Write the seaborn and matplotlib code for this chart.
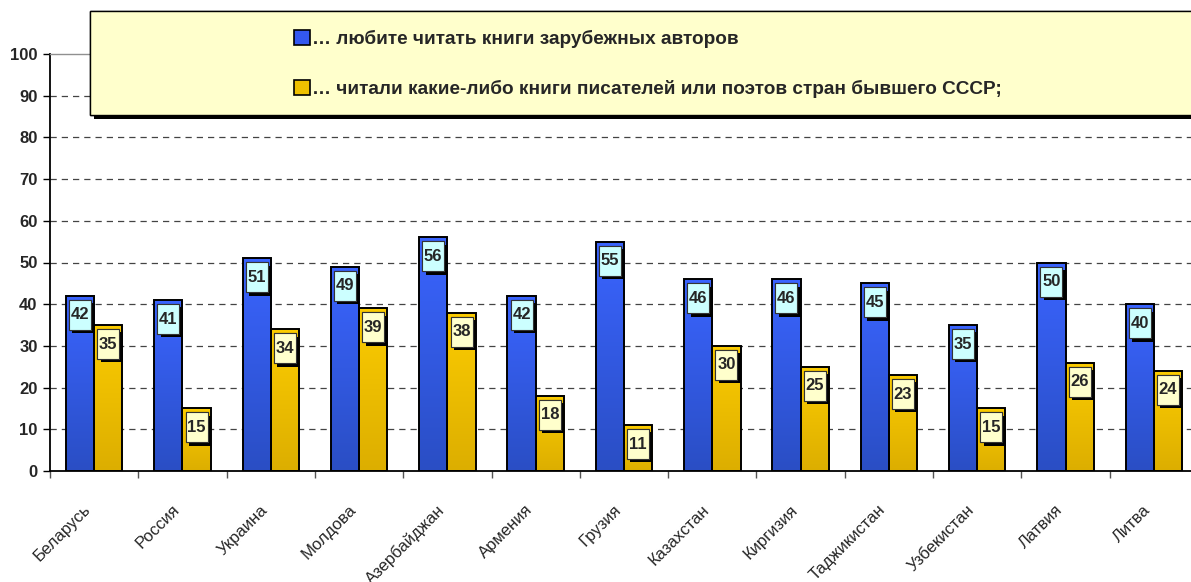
import numpy as np
import pandas as pd
import matplotlib
matplotlib.use("Agg")
import matplotlib.pyplot as plt
import matplotlib.patheffects as pe
from matplotlib.colors import LinearSegmentedColormap
from matplotlib.patches import Rectangle, Patch
from matplotlib.path import Path
from matplotlib.transforms import ScaledTranslation
import seaborn as sns

# data
countries = ["Беларусь", "Россия", "Украина", "Молдова", "Азербайджан", "Армения",
             "Грузия", "Казахстан", "Киргизия", "Таджикистан", "Узбекистан",
             "Латвия", "Литва"]
foreign_authors = [42, 41, 51, 49, 56, 42, 55, 46, 46, 45, 35, 50, 40]
ussr_writers = [35, 15, 34, 39, 38, 18, 11, 30, 25, 23, 15, 26, 24]
series_names = ["… любите читать книги зарубежных авторов",
                "… читали какие-либо книги писателей или поэтов стран бывшего СССР;"]
y_ticks = list(range(0, 101, 10))

blue_top, blue_bot = "#3a64ff", "#2a4ec4"
yel_top, yel_bot = "#fccc00", "#dcae00"

df = pd.DataFrame({
    "country": countries * 2,
    "value": foreign_authors + ussr_writers,
    "series": [series_names[0]] * len(countries) + [series_names[1]] * len(countries),
})

sns.set_style("white")
plt.rcParams["font.family"] = ["Liberation Sans", "DejaVu Sans"]

fig = plt.figure(figsize=(11.91, 5.82), dpi=100)
ax = fig.add_axes([50 / 1191, 111 / 582, 1148 / 1191, 417 / 582])

sns.barplot(data=df, x="country", y="value", hue="series", order=countries,
            hue_order=series_names, palette=[blue_top, yel_top], width=0.64,
            saturation=1, edgecolor="black", linewidth=1.4, errorbar=None,
            legend=False, ax=ax, zorder=2)

# vertical gradient fill for every bar
grad = np.linspace(1, 0, 256).reshape(-1, 1)
cmaps = [LinearSegmentedColormap.from_list("b", [blue_bot, blue_top]),
         LinearSegmentedColormap.from_list("y", [yel_bot, yel_top])]
for cont, cm in zip(ax.containers, cmaps):
    for bar in cont:
        x0, w, h = bar.get_x(), bar.get_width(), bar.get_height()
        ax.imshow(grad, extent=(x0, x0 + w, 0, h), aspect="auto", cmap=cm,
                  vmin=0, vmax=1, zorder=1.8, interpolation="bilinear")
        bar.set_facecolor("none")


def fixed_box(x0, y0, width, height, mutation_size):
    # label boxes in the original are taller than the text
    cx, cy = x0 + width / 2, y0 + height / 2
    bw, bh = 22, 30
    return Path([(cx - bw / 2, cy - bh / 2), (cx + bw / 2, cy - bh / 2),
                 (cx + bw / 2, cy + bh / 2), (cx - bw / 2, cy + bh / 2),
                 (cx - bw / 2, cy - bh / 2)], closed=True)


label_faces = ["#ccffff", "#ffffcc"]
for cont, face in zip(ax.containers, label_faces):
    for bar in cont:
        h = bar.get_height()
        t = ax.annotate(f"{h:.0f}", xy=(bar.get_x() + bar.get_width() / 2, h),
                        xytext=(0, -19), textcoords="offset pixels",
                        ha="center", va="center", fontsize=12, fontweight="bold",
                        zorder=4,
                        bbox=dict(boxstyle=fixed_box, facecolor=face,
                                  edgecolor="#333333", linewidth=0.8))
        t.get_bbox_patch().set_path_effects([
            pe.withSimplePatchShadow(offset=(2.4, -2.4), shadow_rgbFace="black",
                                     alpha=1.0),
            pe.Normal()])

ax.set_xlim(-0.5, len(countries) - 0.5)
ax.set_ylim(0, 100)
ax.set_yticks(y_ticks)
ax.set_yticklabels([str(v) for v in y_ticks], fontsize=12, fontweight="bold")
ax.set_xlabel("")
ax.set_ylabel("")

ax.set_axisbelow(True)
ax.yaxis.grid(True, color="#444444", linestyle=(0, (5, 4)), linewidth=0.9)
gl = ax.yaxis.get_gridlines()
gl[0].set_visible(False)
gl[-1].set_visible(False)
ax.xaxis.grid(False)

for s in ["left", "bottom"]:
    ax.spines[s].set_color("black")
    ax.spines[s].set_linewidth(1.3)
ax.spines["top"].set_color("#909090")
ax.spines["top"].set_linewidth(1.0)
ax.spines["right"].set_visible(False)

ax.tick_params(axis="y", direction="out", length=5, width=1, color="black",
               pad=4, left=True)
ax.set_xticks(range(len(countries)))
ax.set_xticks(np.arange(-0.5, len(countries), 1.0), minor=True)
ax.tick_params(axis="x", which="major", length=0, pad=0, bottom=True)
ax.tick_params(axis="x", which="minor", direction="out", length=5, width=1,
               color="#555555", bottom=True)
ax.set_xticklabels(countries, fontsize=12, rotation=45, ha="right", va="top",
                   rotation_mode="anchor")
shift = ScaledTranslation(-11 / 100, -31 / 100, fig.dpi_scale_trans)
for lab in ax.get_xticklabels():
    lab.set_transform(lab.get_transform() + shift)

# legend panel with drop shadow
panel = Rectangle((90 / 1191, 1 - 115 / 582), 1.2, 104 / 582,
                  transform=fig.transFigure, facecolor="#ffffcc",
                  edgecolor="black", linewidth=1.0, zorder=3,
                  path_effects=[pe.withSimplePatchShadow(offset=(3, -3),
                                                         shadow_rgbFace="black",
                                                         alpha=1.0),
                                pe.Normal()])
fig.add_artist(panel)

handles = [Patch(facecolor="#3358f0", edgecolor="black", linewidth=1.2),
           Patch(facecolor="#eec000", edgecolor="black", linewidth=1.2)]
leg = fig.legend(handles, series_names, loc="upper left",
                 bbox_to_anchor=(294 / 1191, 1 - 30 / 582),
                 bbox_transform=fig.transFigure, frameon=False,
                 prop={"size": 13.7, "weight": "bold"}, handlelength=0.85,
                 handleheight=0.85, handletextpad=0.12, labelspacing=1.65,
                 borderpad=0, borderaxespad=0)
leg.set_zorder(5)

fig.savefig("out.png", dpi=100)
